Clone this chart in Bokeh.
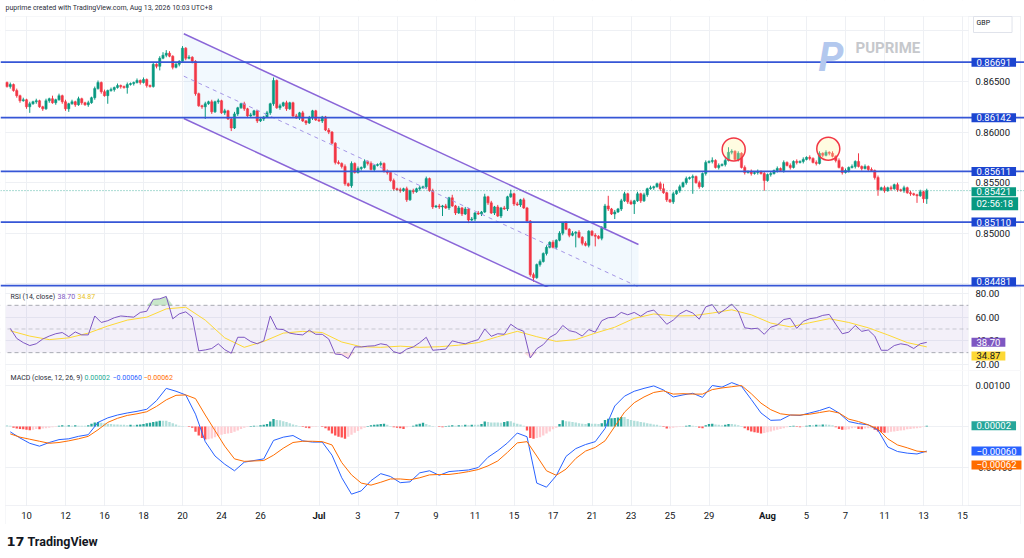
from bokeh.plotting import figure
from bokeh.models import Range1d, FixedTicker, Span, Label, BoxAnnotation, PrintfTickFormatter, ColumnDataSource
from bokeh.layouts import column
from bokeh.embed import file_html
from bokeh.resources import INLINE

FONT = "Roboto"
UP, DN = "#089981", "#f23645"
TXT = "#131722"
GRID = "#eef0f4"
BORDER = "#e0e3eb"

# ---------------- data (4H candles, prices in pips = price*1e4) ----------------
first_open = 8649
closes = [
    8645, 8647, 8641, 8636, 8631, 8632, 8625, 8628, 8630, 8631, 8625, 8623,
    8631, 8633, 8629, 8632, 8636, 8630, 8623, 8628, 8630, 8627, 8633, 8629,
    8627, 8629, 8634, 8643, 8649, 8640, 8636, 8641, 8642, 8644, 8646, 8645,
    8644, 8647, 8648, 8649, 8651, 8649, 8652, 8646, 8645, 8667, 8665, 8673,
    8676, 8678, 8675, 8664, 8667, 8670, 8683, 8673, 8674, 8670, 8638, 8626,
    8625, 8628, 8630, 8620, 8630, 8631, 8619, 8621, 8613, 8604, 8618, 8624,
    8628, 8623, 8616, 8617, 8621, 8611, 8613, 8615, 8619, 8628, 8651, 8624,
    8626, 8629, 8623, 8629, 8616, 8614, 8619, 8611, 8609, 8614, 8621, 8612,
    8611, 8615, 8602, 8600, 8589, 8570, 8569, 8566, 8549, 8547, 8569, 8560,
    8564, 8565, 8571, 8569, 8563, 8567, 8568, 8569, 8561, 8560, 8552, 8544,
    8543, 8542, 8544, 8533, 8542, 8541, 8544, 8545, 8546, 8554, 8542, 8526,
    8527, 8526, 8527, 8525, 8535, 8527, 8520, 8525, 8519, 8524, 8513, 8514,
    8520, 8519, 8521, 8536, 8530, 8520, 8526, 8517, 8525, 8524, 8536, 8539,
    8529, 8528, 8533, 8525, 8512, 8459, 8456, 8469, 8472, 8480, 8486, 8491,
    8486, 8493, 8500, 8510, 8504, 8498, 8500, 8501, 8496, 8490, 8488, 8502,
    8498, 8497, 8495, 8505, 8527, 8524, 8519, 8521, 8524, 8532, 8539, 8531,
    8529, 8532, 8539, 8532, 8538, 8544, 8545, 8546, 8549, 8544, 8540, 8533,
    8531, 8539, 8542, 8546, 8550, 8554, 8555, 8556, 8550, 8546, 8559, 8570,
    8571, 8572, 8565, 8567, 8568, 8572, 8580, 8581, 8573, 8579, 8565, 8560,
    8561, 8559, 8560, 8561, 8559, 8552, 8558, 8559, 8562, 8564, 8562, 8570,
    8567, 8565, 8571, 8570, 8571, 8573, 8575, 8574, 8570, 8569, 8579, 8577,
    8580, 8579, 8576, 8572, 8565, 8560, 8562, 8565, 8566, 8571, 8566, 8564,
    8566, 8563, 8562, 8555, 8543, 8545, 8542, 8545, 8544, 8548, 8543, 8542,
    8545, 8540, 8539, 8538, 8537, 8541, 8534, 8542,
]
wick_up = [
    1, 2, 1, 2, 1, 2, 1, 2, 1, 2, 1, 1,
    2, 1, 3, 1, 2, 1, 2, 1, 2, 1, 2, 1,
    1, 2, 1, 2, 2, 1, 2, 1, 2, 1, 2, 1,
    1, 2, 1, 1, 2, 1, 2, 1, 1, 2, 1, 2,
    3, 3, 2, 1, 2, 1, 2, 1, 2, 1, 1, 1,
    1, 2, 1, 2, 1, 2, 1, 2, 1, 1, 2, 1,
    1, 2, 1, 2, 1, 1, 2, 1, 2, 1, 3, 1,
    2, 1, 2, 1, 1, 2, 1, 2, 1, 2, 1, 1,
    2, 1, 1, 2, 1, 1, 2, 1, 2, 1, 2, 1,
    2, 1, 2, 1, 2, 1, 1, 2, 1, 2, 1, 2,
    1, 2, 1, 2, 1, 2, 1, 2, 1, 2, 1, 2,
    1, 2, 1, 2, 1, 3, 1, 2, 1, 2, 1, 2,
    1, 2, 1, 3, 1, 2, 1, 2, 1, 2, 1, 4,
    1, 2, 1, 2, 1, 1, 2, 1, 2, 1, 2, 1,
    2, 1, 2, 1, 2, 1, 2, 1, 2, 1, 2, 1,
    1, 2, 1, 2, 2, 10, 1, 2, 1, 2, 2, 1,
    2, 1, 2, 1, 2, 1, 2, 1, 1, 2, 5, 1,
    1, 2, 1, 2, 1, 2, 1, 2, 1, 2, 1, 2,
    1, 3, 1, 2, 1, 2, 5, 2, 1, 2, 1, 2,
    1, 2, 1, 2, 1, 2, 1, 2, 1, 2, 1, 2,
    1, 2, 1, 2, 1, 2, 1, 2, 1, 2, 2, 1,
    2, 1, 2, 1, 2, 1, 2, 1, 2, 1, 8, 1,
    2, 1, 2, 1, 2, 1, 2, 1, 2, 1, 2, 1,
    2, 1, 2, 1, 1, 2, 1, 2,
]
wick_dn = [
    1, 2, 1, 2, 2, 1, 2, 6, 1, 2, 1, 2,
    1, 2, 1, 2, 1, 2, 2, 3, 1, 2, 1, 2,
    1, 2, 1, 2, 1, 2, 1, 8, 1, 2, 1, 2,
    1, 6, 1, 2, 1, 2, 1, 2, 1, 1, 2, 4,
    1, 2, 1, 2, 1, 2, 1, 2, 1, 2, 2, 1,
    2, 12, 1, 2, 1, 2, 1, 2, 1, 3, 1, 2,
    1, 2, 1, 2, 1, 2, 1, 2, 1, 2, 2, 1,
    2, 1, 2, 1, 2, 1, 2, 1, 2, 1, 2, 1,
    1, 2, 1, 2, 1, 2, 1, 2, 2, 1, 2, 1,
    1, 2, 1, 2, 1, 2, 1, 2, 1, 2, 1, 2,
    1, 2, 1, 2, 1, 2, 1, 2, 1, 2, 1, 2,
    1, 2, 9, 1, 2, 1, 2, 1, 2, 1, 3, 1,
    2, 1, 2, 1, 2, 1, 2, 1, 2, 1, 2, 1,
    2, 1, 2, 1, 2, 2, 4, 1, 2, 1, 2, 1,
    1, 2, 1, 2, 1, 2, 1, 14, 1, 2, 1, 2,
    1, 10, 1, 2, 1, 2, 1, 5, 1, 2, 1, 2,
    1, 10, 1, 2, 1, 2, 1, 2, 1, 2, 1, 2,
    1, 2, 1, 2, 1, 2, 1, 16, 1, 2, 1, 2,
    1, 2, 1, 2, 1, 2, 1, 2, 1, 2, 1, 2,
    1, 2, 1, 2, 1, 10, 1, 2, 1, 2, 1, 2,
    1, 2, 1, 2, 1, 2, 1, 2, 1, 2, 1, 2,
    1, 2, 1, 2, 1, 2, 1, 2, 1, 2, 1, 2,
    1, 2, 1, 2, 6, 1, 2, 1, 2, 1, 2, 1,
    2, 1, 2, 1, 7, 1, 4, 5,
]
# RSI(14) read every 2nd candle (odd candles), RSI-MA every 6th candle
rsi = [
    50.5, 42, 38.5, 36, 37.5, 41.5, 44, 46, 47, 43.5, 47.5, 45,
    45, 61, 55.5, 57, 59.5, 61, 60.5, 60, 64, 65, 75, 75.5,
    77.5, 58.6, 62.8, 64.5, 60, 31.5, 32.3, 33.5, 37.5, 32.5, 29.5, 43,
    43, 39.4, 37.5, 40, 61, 50, 49.5, 46.5, 45.5, 45, 49, 45.5,
    45.5, 41.5, 28.8, 28.3, 25, 34.9, 34.8, 35.5, 35.8, 37.5, 36.5, 30.8,
    29.2, 33, 34.8, 38.5, 43, 32, 32.5, 33, 40, 38.5, 37.5, 39.4,
    41, 50, 43.8, 46, 45.5, 54, 50.2, 48, 25.5, 33.3, 36.8, 43,
    46, 53, 48.6, 47.3, 44, 49.5, 47.3, 57, 59.5, 60, 64, 62,
    64, 60.8, 64.6, 66, 60.3, 54, 57.5, 62.8, 65.8, 63.5, 58.3, 68.7,
    70.6, 63, 66.7, 71, 65, 51, 50.2, 50.6, 45.5, 51.5, 53.3, 58,
    59, 50.5, 56.5, 58.7, 59.5, 61.5, 62.3, 54, 46, 47.3, 53, 48,
    49.2, 44, 32, 32, 36, 37.5, 36.5, 33.5, 37.5, 38.7,
]
rsi_ma = [
    48.5, 44, 41, 42.5, 46.5, 52.5, 57.5, 60, 67, 68.4, 57.5, 42.5,
    34.5, 39.5, 46.5, 48, 47, 39, 35, 34.5, 35.5, 34.5, 35, 36.3,
    38.5, 43.5, 48, 43.5, 39.5, 41, 46.5, 51.5, 59, 62.7, 61, 61.2,
    63.5, 66.2, 62, 55, 51.8, 55.3, 58.7, 55.5, 51, 45, 38.5, 34.87,
]
# MACD(12,26,9) in 1e-5 units, read every 3rd candle; histogram per candle
macd = [
    -13, -28, -41, -48, -39, -32, -30, -24, -20, 10, 21, 28,
    33, 37, 42, 63, 93, 86, 77, 30, -37, -72, -92, -108,
    -87, -83, -79, -34, -26, -22, -35, -38, -38, -70, -125, -165,
    -157, -132, -115, -122, -137, -135, -113, -108, -119, -110, -108, -106,
    -100, -75, -59, -40, -16, -25, -138, -148, -120, -73, -54, -44,
    -37, -5, 50, 74, 86, 93, 99, 89, 72, 77, 81, 71,
    100, 96, 107, 98, 66, 33, 15, 16, 28, 27, 33, 39,
    47, 33, 12, 7, 4, -9, -50, -61, -65, -67, -60,
]
signal = [
    -18, -26, -31, -36, -41, -39, -35, -30, -24, -8, 10, 20,
    27, 31, 36, 49, 65, 76, 77, 68, 28, -10, -48, -79,
    -85, -84, -83, -70, -53, -39, -36, -36, -37, -45, -88, -118,
    -138, -143, -136, -128, -128, -130, -125, -118, -117, -117, -114, -110,
    -105, -96, -84, -63, -40, -37, -72, -108, -119, -104, -78, -60,
    -51, -35, 0, 35, 58, 72, 83, 87, 79, 80, 79, 79,
    90, 94, 97, 100, 80, 57, 41, 31, 28, 28, 30, 34,
    38, 33, 18, 12, 4, -6, -30, -45, -52, -60, -62,
]
hist = [
    3, 2, -3, -5, -6, -7, -8, -9, -8, -6, -7, -5,
    -4, -3, -2, -1, 2, 3, 2, 3, 2, 3, 2, 2,
    2, 3, 7, 10, 11, 9, 8, 7, 6, 5, 5, 4,
    4, 3, 4, 3, 4, 5, 6, 8, 9, 11, 12, 14,
    14, 14, 11, 8, 5, 2, 1, 0, -1, -3, -13, -22,
    -28, -32, -31, -29, -26, -23, -20, -18, -17, -16, -13, -10,
    -6, -3, -1, 1, 2, 2, 3, 4, 6, 12, 18, 16,
    15, 13, 11, 8, 5, 3, 1, -1, -3, -4, -1, -1,
    0, -1, -4, -10, -17, -22, -25, -27, -30, -25, -20, -15,
    -11, -7, -3, 1, 3, 4, 5, 6, 7, 4, 1, -2,
    -3, -4, -6, -2, 0, 2, 5, 7, 9, 6, 3, 1,
    0, -1, -2, 1, 2, 3, 2, 3, 3, 4, 3, 4,
    4, 4, 6, 12, 11, 10, 10, 10, 9, 11, 13, 13,
    9, 7, 5, 2, -10, -28, -30, -28, -26, -22, -17, -12,
    -7, -3, 6, 15, 13, 12, 11, 10, 8, 7, 6, 8,
    7, 7, 6, 8, 16, 19, 20, 21, 22, 23, 23, 18,
    16, 14, 13, 11, 10, 8, 7, 5, 4, 2, -1, -5,
    -5, -3, -2, -1, -1, 2, 3, 2, 1, -3, -4, 3,
    6, 7, 5, 4, 3, 4, 6, 6, 5, 3, 1, -4,
    -9, -12, -14, -15, -17, -16, -14, -12, -10, -8, -6, -4,
    -2, 1, 2, -1, -2, -1, 2, 3, 3, 4, 4, 5,
    5, 4, 3, -2, -6, -8, -8, -7, -4, -3, -6, -7,
    -5, -4, -4, -8, -12, -14, -15, -15, -13, -12, -11, -10,
    -9, -7, -6, -5, -4, -3, -1, 2,
]

x_ticks = [6, 18, 30, 42, 54, 66, 78, 96, 108, 120, 132, 144,
           156, 168, 180, 192, 204, 216, 234, 246, 258, 270, 282, 294]
x_labels = ["10", "12", "16", "18", "20", "24", "26", "Jul", "3", "7", "9", "11",
            "15", "17", "21", "23", "25", "29", "Aug", "5", "7", "11", "13", "15"]
month_labels = ["Jul", "Aug"]

levels = [0.86691, 0.86142, 0.85611, 0.85110, 0.84481]
last_price = 0.85421
countdown = "02:56:18"
channel_x = [54.4, 194.3]
channel_top = [0.86972, 0.84888]
channel_bot = [0.86134, 0.84050]
circle_x = [223.6, 252.7]
circle_y = [0.85828, 0.85835]
rsi_last, rsi_ma_last = 38.70, 34.87
macd_last, signal_last, hist_last = -0.00060, -0.00062, 0.00002

price_ticks = [0.850, 0.855, 0.860, 0.865]
price_grid = [0.845, 0.850, 0.855, 0.860, 0.865, 0.870]
rsi_ticks = [20, 40, 60, 80]
macd_ticks = [-0.001, 0.0, 0.001]

# ---------------- derived candle columns ----------------
N = len(closes)
ks = list(range(N))
c = [v / 1e4 for v in closes]
o = [first_open / 1e4] + c[:-1]
top = [max(a, b) for a, b in zip(o, c)]
bot = [min(a, b) for a, b in zip(o, c)]
hi = [t + u / 1e4 for t, u in zip(top, wick_up)]
lo = [b - d / 1e4 for b, d in zip(bot, wick_dn)]
ccol = [UP if cc >= oo else DN for oo, cc in zip(o, c)]
csrc = ColumnDataSource(dict(x=ks, top=top, bot=bot, hi=hi, lo=lo, col=ccol))

# ---------------- layout (frames span full width; price scale drawn inside) ----------------
W = 1024
PX_PER_BAR = 3.25
def kx(px):
    return (px - 6.5) / PX_PER_BAR
X_L, XB, X_R = kx(5), kx(968), kx(1020)   # chart left edge, scale edge, outer right edge
xr = Range1d(kx(0), kx(W))


def panel(h, yr, xaxis=False):
    p = figure(width=W, height=h, x_range=xr, y_range=yr, output_backend="svg",
               toolbar_location=None, tools="",
               x_axis_location="below" if xaxis else None, y_axis_location="right",
               min_border_left=0, min_border_right=0, min_border_top=0, min_border_bottom=0)
    p.outline_line_color = None
    p.background_fill_color = "white"
    p.border_fill_color = "white"
    p.xgrid.ticker = FixedTicker(ticks=x_ticks)
    p.grid.grid_line_color = GRID
    ya = p.yaxis[0]
    ya.axis_line_color = None
    ya.major_tick_line_color = None
    ya.minor_tick_line_color = None
    ya.major_tick_out = 0
    ya.major_tick_in = 0
    ya.major_label_text_font = FONT
    ya.major_label_text_font_size = "9.5px"
    ya.major_label_text_color = TXT
    ya.major_label_standoff = -(W - 975)
    return p


def frame_boxes(p, ytop=None, ybot=None):
    # white margins left / right, price-scale strip, chart outline
    p.add_layout(BoxAnnotation(right=X_L, fill_color="white", fill_alpha=1, line_color=None, level="underlay"))
    p.add_layout(BoxAnnotation(left=X_R, fill_color="white", fill_alpha=1, line_color=None, level="underlay"))
    p.add_layout(BoxAnnotation(left=XB, right=X_R, top=ytop, bottom=ybot, fill_color="white",
                               fill_alpha=1, line_color=BORDER, line_width=1, level="underlay"))
    p.add_layout(BoxAnnotation(left=X_L, right=X_R, top=ytop, bottom=ybot, fill_alpha=0,
                               line_color=BORDER, line_width=1))


def badge(p, y, text, bg, fg="white", yoff=0):
    # padding given as (horizontal, vertical)
    p.add_layout(Label(x=XB, y=y, x_offset=3, y_offset=yoff, text=text,
                       text_font=FONT, text_font_size="9.5px", text_color=fg,
                       text_align="left", text_baseline="middle",
                       background_fill_color=bg, padding=(5, 1)))


def legend(p, ytop, yoff, parts):
    for txt, col, px in parts:
        p.add_layout(Label(x=kx(px), y=ytop, y_offset=yoff, text=txt,
                           text_font=FONT, text_font_size="7px", text_color=col,
                           text_align="left", text_baseline="middle"))


# ---------------- price panel (canvas 0..287, chart from 16) ----------------
P_TOP = 0.871429
yr_p = Range1d(0.844632, 0.873011)
pp = panel(287, yr_p)
pp.yaxis.ticker = FixedTicker(ticks=price_ticks)
pp.ygrid.ticker = FixedTicker(ticks=price_grid)
pp.yaxis.formatter = PrintfTickFormatter(format="%.5f")
pp.add_layout(BoxAnnotation(bottom=P_TOP, fill_color="white", fill_alpha=1, line_color=None,
                            level="underlay"))
frame_boxes(pp, ytop=P_TOP)

pp.patch(x=[channel_x[0], channel_x[1], channel_x[1], channel_x[0]],
         y=[channel_top[0], channel_top[1], channel_bot[1], channel_bot[0]],
         fill_color="#2196f3", fill_alpha=0.06, line_color=None)
pp.segment(x0="x", y0="lo", x1="x", y1="hi", color="col", line_width=1, source=csrc)
pp.vbar(x="x", width=0.7, top="top", bottom="bot", fill_color="col", line_color="col",
        line_width=0.5, source=csrc)
pp.line(channel_x, channel_top, line_color="#8a66d8", line_width=1.5)
pp.line(channel_x, channel_bot, line_color="#8a66d8", line_width=1.5)
pp.line(channel_x, [(a + b) / 2 for a, b in zip(channel_top, channel_bot)],
        line_color="#a596e6", line_width=1, line_dash="4 4")
pp.scatter(circle_x, circle_y, marker="circle", size=23, line_color=DN, line_width=1.5,
           fill_color="#fff59d", fill_alpha=0.3)

for lv in levels:
    pp.add_layout(Span(location=lv, dimension="width", line_color="#3656d6", line_width=1.8))
pp.add_layout(Span(location=last_price, dimension="width", line_color=UP, line_alpha=0.7,
                   line_dash="1 2", line_width=1))
for i, lv in enumerate(levels):
    badge(pp, lv, f"{lv:.5f}", "#1c45d0", yoff=4 if i == len(levels) - 1 else 0)
badge(pp, last_price, f"{last_price:.5f}", UP, yoff=-1)
badge(pp, last_price, countdown, UP, yoff=-13)

pp.add_layout(Label(x=XB, y=P_TOP, x_offset=5, y_offset=-8, text="GBP",
                    text_font=FONT, text_font_size="7px", text_color=TXT,
                    text_align="left", text_baseline="middle",
                    background_fill_color="white", border_line_color=BORDER,
                    padding=(3, 22, 3, 5)))
pp.add_layout(Label(x=kx(5), y=yr_p.end, y_offset=-7,
                    text="puprime created with TradingView.com, Aug 13, 2026 10:03 UTC+8",
                    text_font=FONT, text_font_size="7px", text_color="#2a2e39",
                    text_align="left", text_baseline="middle"))
pp.add_layout(Label(x=kx(818), y=0.86737, text="P", text_font=FONT, text_font_size="40px",
                    text_font_style="bold italic", text_color="#b3c8ee",
                    text_align="left", text_baseline="alphabetic"))
pp.add_layout(Label(x=kx(855), y=0.86827, text="PUPRIME", text_font=FONT, text_font_size="15px",
                    text_font_style="bold", text_color="#c6c8cc",
                    text_align="left", text_baseline="alphabetic"))

# ---------------- RSI panel (canvas 287..370) ----------------
yr_r = Range1d(14.91, 85.07)
pr = panel(83, yr_r)
pr.yaxis.ticker = FixedTicker(ticks=rsi_ticks)
pr.ygrid.ticker = FixedTicker(ticks=rsi_ticks)
pr.yaxis.formatter = PrintfTickFormatter(format="%.2f")
pr.add_layout(BoxAnnotation(bottom=30, top=70, left=X_L, right=XB, fill_color="#7e57c2",
                            fill_alpha=0.09, line_color=None, level="underlay"))
for lvl, a in [(70, 0.8), (50, 0.45), (30, 0.8)]:
    pr.add_layout(Span(location=lvl, dimension="width", line_color="#9598a1", line_alpha=a,
                       line_dash="4 3", line_width=1, level="underlay"))
frame_boxes(pr)
rsi_x = [2 * j + 1 for j in range(len(rsi))]
ma_x = [6 * m + 1 for m in range(len(rsi_ma))]
pr.varea(x=rsi_x, y1=[70] * len(rsi), y2=[max(v, 70) for v in rsi],
         fill_color="#4caf50", fill_alpha=0.3)
pr.varea(x=rsi_x, y1=[min(v, 30) for v in rsi], y2=[30] * len(rsi),
         fill_color="#f23645", fill_alpha=0.15)
pr.line(ma_x, rsi_ma, line_color="#fdd835", line_width=1)
pr.line(rsi_x, rsi, line_color="#7e57c2", line_width=1)
legend(pr, yr_r.end, -9, [("RSI (14, close)", "#2a2e39", 10), (f"{rsi_last:.2f}", "#7e57c2", 57),
                          (f"{rsi_ma_last:.2f}", "#e8c21a", 77)])
badge(pr, rsi_last, f"{rsi_last:.2f}", "#7e57c2")
badge(pr, rsi_ma_last, f"{rsi_ma_last:.2f}", "#fdd835", fg=TXT, yoff=-9)

# ---------------- MACD panel (canvas 370..524, time axis 505..524) ----------------
M_TOP, M_BOT = 0.0013658, -0.0019268
yr_m = Range1d(-0.0023902, M_TOP)
pm = panel(154, yr_m, xaxis=True)
pm.yaxis.ticker = FixedTicker(ticks=macd_ticks)
pm.ygrid.ticker = FixedTicker(ticks=macd_ticks)
pm.yaxis.formatter = PrintfTickFormatter(format="%.5f")
xa = pm.xaxis[0]
xa.ticker = FixedTicker(ticks=x_ticks)
xa.major_label_overrides = {t: (" " if l in month_labels else l) for t, l in zip(x_ticks, x_labels)}
xa.axis_line_color = None
xa.major_tick_line_color = None
xa.minor_tick_line_color = None
xa.major_tick_out = 0
xa.major_tick_in = 0
xa.major_label_text_font = FONT
xa.major_label_text_font_size = "9.5px"
xa.major_label_text_color = TXT
xa.major_label_standoff = -15
pm.add_layout(BoxAnnotation(top=M_BOT, fill_color="white", fill_alpha=1, line_color=None,
                            level="underlay"))
frame_boxes(pm, ybot=M_BOT)
pm.add_layout(BoxAnnotation(left=X_L, right=X_R, top=M_BOT, fill_alpha=0, line_color=BORDER,
                            line_width=1))
for t, l in zip(x_ticks, x_labels):
    if l in month_labels:
        pm.add_layout(Label(x=t, y=M_BOT, y_offset=-4, text=l, text_font=FONT,
                            text_font_size="9.5px", text_font_style="bold", text_color=TXT,
                            text_align="center", text_baseline="top"))

hcol = []
prev = hist[0]
for h in hist:
    if h >= 0:
        hcol.append("#26a69a" if h > prev else "#b2dfdb")
    else:
        hcol.append("#ff5252" if h < prev else "#ffcdd2")
    prev = h
hsrc = ColumnDataSource(dict(x=ks, top=[h * 1e-5 for h in hist], col=hcol))
pm.vbar(x="x", width=0.72, top="top", bottom=0, fill_color="col", line_color=None, source=hsrc)
m_x = [3 * i + 1 for i in range(len(macd))]
pm.line(m_x, [v * 1e-5 for v in macd], line_color="#2962ff", line_width=1)
pm.line(m_x, [v * 1e-5 for v in signal], line_color="#ff6d00", line_width=1)
legend(pm, M_TOP, -7, [("MACD (close, 12, 26, 9)", "#2a2e39", 10), ("0.00002", "#22ab94", 84),
                       ("\u22120.00060", "#2962ff", 112), ("\u22120.00062", "#ff6d00", 143)])
badge(pm, hist_last, f"{hist_last:.5f}", "#26a69a")
badge(pm, macd_last, "\u22120.00060", "#2962ff")
badge(pm, signal_last, "\u22120.00062", "#ff6d00", yoff=-13)

# ---------------- footer (canvas 524..558) ----------------
pf = figure(width=W, height=34, x_range=Range1d(0, W), y_range=Range1d(0, 34),
            output_backend="svg", toolbar_location=None, tools="",
            x_axis_location=None, y_axis_location=None, min_border=0)
pf.outline_line_color = None
pf.grid.visible = False
pf.add_layout(Label(x=6, y=17, text="17", text_font="DejaVu Sans", text_font_size="13px",
                    text_font_style="bold", text_color=TXT, text_baseline="middle"))
pf.add_layout(Label(x=27, y=17, text="TradingView", text_font=FONT, text_font_size="12.5px",
                    text_font_style="bold", text_color=TXT, text_baseline="middle"))

layout = column(pp, pr, pm, pf, spacing=0)
open("out.html", "w").write(file_html(layout, INLINE))
